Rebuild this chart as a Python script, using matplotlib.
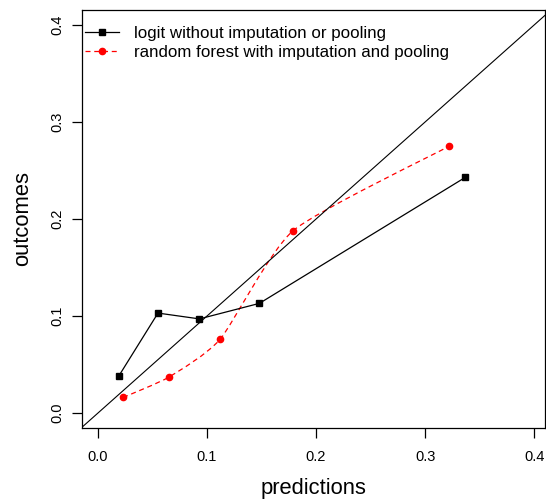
import numpy as np
import matplotlib
matplotlib.use("Agg")
import matplotlib.pyplot as plt
from matplotlib.path import Path
from matplotlib.patches import PathPatch
from matplotlib.lines import Line2D

plt.rcParams['font.family'] = ['Liberation Sans', 'DejaVu Sans']

# calibration data
logit_pred = [0.019, 0.055, 0.093, 0.148, 0.337]
logit_obs = [0.038, 0.103, 0.097, 0.113, 0.243]
rf_pred = [0.023, 0.065, 0.112, 0.179, 0.322]
rf_obs = [0.016, 0.037, 0.076, 0.188, 0.275]
labels = ["logit without imputation or pooling",
          "random forest with imputation and pooling"]
ticks = [0.0, 0.1, 0.2, 0.3, 0.4]


def smooth_path(x, y, k=10.0):
    # low-tension catmull-rom through the points, as cubic bezier segments
    pts = np.column_stack([x, y])
    ext = np.vstack([pts[0], pts, pts[-1]])
    verts = [pts[0]]
    codes = [Path.MOVETO]
    for i in range(1, len(ext) - 2):
        p0, p1, p2, p3 = ext[i - 1], ext[i], ext[i + 1], ext[i + 2]
        verts += [p1 + (p2 - p0) / k, p2 - (p3 - p1) / k, p2]
        codes += [Path.CURVE4] * 3
    return Path(verts, codes)


fig = plt.figure(figsize=(5.46, 4.99), dpi=100)
ax = fig.add_axes([82 / 546, (499 - 428) / 499, (545 - 82) / 546, (428 - 10) / 499])

ax.plot([-1, 1], [-1, 1], color='black', lw=0.8)
ax.plot(logit_pred, logit_obs, color='black', lw=0.9, marker='s', ms=5)

ax.add_patch(PathPatch(smooth_path(rf_pred, rf_obs), fill=False,
                       edgecolor='red', lw=0.9, linestyle=(0, (4, 3))))
ax.plot(rf_pred, rf_obs, ls='none', marker='o', ms=4.5, color='red')

ax.set_xlim(-0.0147, 0.410)
ax.set_ylim(-0.0155, 0.4155)
ax.set_xticks(ticks)
ax.set_yticks(ticks)
ax.set_xticklabels([f"{t:.1f}" for t in ticks], fontsize=10.5)
ax.set_yticklabels([f"{t:.1f}" for t in ticks], fontsize=10.5, rotation=90, va='center')
ax.tick_params(direction='out', length=7, width=0.9)
ax.tick_params(axis='x', pad=9)
ax.tick_params(axis='y', pad=6)
for s in ax.spines.values():
    s.set_linewidth(0.9)

ax.set_xlabel("predictions", fontsize=15.8, labelpad=10)
ax.set_ylabel("outcomes", fontsize=15.8, labelpad=12)

handles = [Line2D([], [], color='black', lw=0.9, marker='s', ms=5),
           Line2D([], [], color='red', lw=0.9, ls=(0, (4, 3)), marker='o', ms=4.5)]
ax.legend(handles, labels, loc='upper left', frameon=False, fontsize=12.2,
          handlelength=2.0, handletextpad=0.9, labelspacing=0.25,
          borderaxespad=0.0, borderpad=0.3, bbox_to_anchor=(-0.005, 0.975))

fig.savefig("out.png", dpi=100)
